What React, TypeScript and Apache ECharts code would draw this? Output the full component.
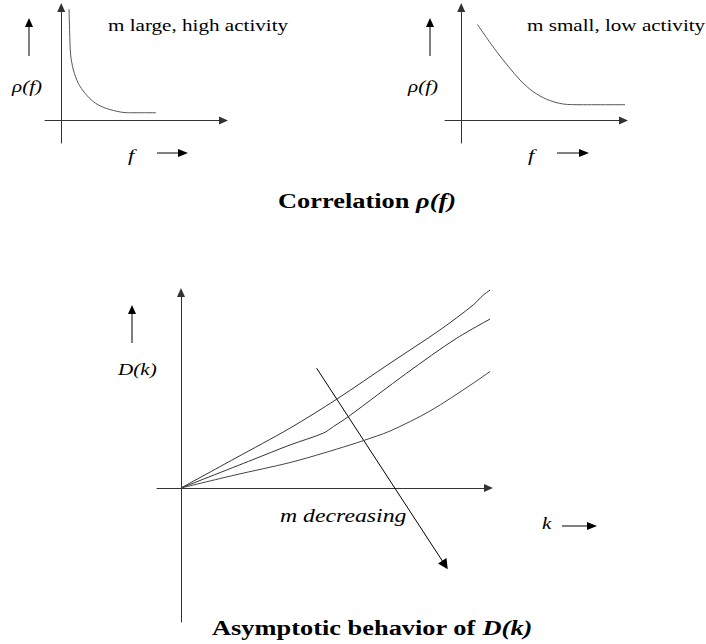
import React, { useEffect, useRef } from 'react';
import * as echarts from 'echarts';

// rho(f) for large m (high activity): f values and correlation values
const highActivityF = [0.048, 0.052, 0.058, 0.075, 0.105, 0.147, 0.198, 0.259, 0.342, 0.404, 0.584];
const highActivityRho = [0.984, 0.78, 0.58, 0.446, 0.329, 0.24, 0.166, 0.116, 0.081, 0.068, 0.068];

// rho(f) for small m (low activity)
const lowActivityF = [0.099, 0.219, 0.362, 0.444, 0.527, 0.629, 0.732, 1.081];
const lowActivityRho = [0.851, 0.608, 0.358, 0.254, 0.187, 0.145, 0.139, 0.139];

// D(k) curves, from largest m to smallest m
const curveAK = [0, 1.8, 3.63, 5.19, 6.97, 8.63, 9.74, 10.08, 10.47];
const curveAD = [0, 1.48, 2.99, 4.44, 6.24, 7.9, 9.15, 9.65, 10.07];
const curveBK = [0, 2.4, 3.63, 4.74, 5.08, 5.58, 7.52, 9.19, 10.66];
const curveBD = [0, 1.42, 2.15, 2.74, 3.07, 3.57, 5.74, 7.49, 8.74];
const curveCK = [0, 1.8, 3.63, 4.74, 5.63, 6.08, 6.97, 8.3, 9.74, 11.19];
const curveCD = [0, 0.65, 1.27, 1.74, 2.15, 2.37, 2.85, 3.85, 5.24, 6.77];

// "m decreasing" direction arrow, start and end in (k, D) units
const decreasingArrowK = [4.52, 8.8];
const decreasingArrowD = [5.99, -3.85];

const SERIF = '"Liberation Serif", "Times New Roman", serif';
const SX = 1.32;

const zip = (xs: number[], ys: number[]) => xs.map((x, i) => [x, ys[i]]);

const axisBase = {
  type: 'value' as const,
  axisTick: { show: false },
  axisLabel: { show: false },
  splitLine: { show: false },
  axisLine: {
    show: true,
    onZero: true,
    symbol: ['none', 'triangle'],
    symbolSize: [8, 9],
    lineStyle: { color: '#333', width: 1 },
  },
};

function upArrow(x: number, tipY: number, baseY: number) {
  return [
    {
      type: 'line',
      shape: { x1: x, y1: tipY + 8, x2: x, y2: baseY },
      style: { stroke: '#555', lineWidth: 1.5 },
    },
    {
      type: 'polygon',
      shape: { points: [[x, tipY], [x - 4, tipY + 9], [x + 4, tipY + 9]] },
      style: { fill: '#000' },
    },
  ];
}

function rightArrow(x1: number, tipX: number, y: number) {
  return [
    {
      type: 'line',
      shape: { x1, y1: y, x2: tipX - 8, y2: y },
      style: { stroke: '#000', lineWidth: 1 },
    },
    {
      type: 'polygon',
      shape: { points: [[tipX, y], [tipX - 10, y - 4], [tipX - 10, y + 4]] },
      style: { fill: '#000' },
    },
  ];
}

function label(
  text: string,
  x: number,
  y: number,
  fontSize: number,
  fontStyle = 'normal',
  fontWeight = 'normal'
) {
  return {
    type: 'text',
    x,
    y,
    scaleX: SX,
    style: {
      text,
      fontFamily: SERIF,
      fontSize,
      fontStyle,
      fontWeight,
      fill: '#000',
      align: 'left',
      verticalAlign: 'middle',
      textAlign: 'left',
      textVerticalAlign: 'middle',
    },
  };
}

function titleLabel(plain: string, italic: string, x: number, y: number) {
  return {
    type: 'text',
    x,
    y,
    scaleX: SX,
    style: {
      text: `{b|${plain}}{bi|${italic}}`,
      fontFamily: SERIF,
      fontSize: 20,
      fontWeight: 'bold',
      fill: '#000',
      align: 'left',
      verticalAlign: 'middle',
      textAlign: 'left',
      textVerticalAlign: 'middle',
      rich: {
        b: { fontFamily: SERIF, fontSize: 20, fontWeight: 'bold', fill: '#000' },
        bi: { fontFamily: SERIF, fontSize: 20, fontWeight: 'bold', fontStyle: 'italic', fill: '#000' },
      },
    },
  };
}

export default function App() {
  const ref = useRef<HTMLDivElement>(null);

  useEffect(() => {
    if (!ref.current) return;
    const chart = echarts.init(ref.current, undefined, { renderer: 'svg' });

    const curveLine = { color: '#555', width: 1 };

    chart.setOption({
      animation: false,
      backgroundColor: '#fff',
      grid: [
        { left: 45, top: 7.5, width: 178.5, height: 135.5 },
        { left: 445, top: 7.5, width: 178.5, height: 135.5 },
        { left: 157, top: 292.5, width: 331.5, height: 329.5 },
      ],
      xAxis: [
        { ...axisBase, gridIndex: 0, min: -0.1, max: 1.0 },
        { ...axisBase, gridIndex: 1, min: -0.1, max: 1.0 },
        { ...axisBase, gridIndex: 2, min: -0.8, max: 10.25 },
      ],
      yAxis: [
        { ...axisBase, gridIndex: 0, min: -0.2, max: 1.0 },
        { ...axisBase, gridIndex: 1, min: -0.2, max: 1.0 },
        { ...axisBase, gridIndex: 2, min: -6.7, max: 9.775 },
      ],
      series: [
        {
          type: 'line',
          xAxisIndex: 0,
          yAxisIndex: 0,
          data: zip(highActivityF, highActivityRho),
          symbol: 'none',
          smooth: 0.3,
          clip: false,
          lineStyle: curveLine,
        },
        {
          type: 'line',
          xAxisIndex: 1,
          yAxisIndex: 1,
          data: zip(lowActivityF, lowActivityRho),
          symbol: 'none',
          smooth: 0.3,
          clip: false,
          lineStyle: curveLine,
        },
        {
          type: 'line',
          xAxisIndex: 2,
          yAxisIndex: 2,
          data: zip(curveAK, curveAD),
          symbol: 'none',
          smooth: 0.3,
          clip: false,
          lineStyle: { color: '#333', width: 1 },
        },
        {
          type: 'line',
          xAxisIndex: 2,
          yAxisIndex: 2,
          data: zip(curveBK, curveBD),
          symbol: 'none',
          smooth: 0.3,
          clip: false,
          lineStyle: { color: '#333', width: 1 },
        },
        {
          type: 'line',
          xAxisIndex: 2,
          yAxisIndex: 2,
          data: zip(curveCK, curveCD),
          symbol: 'none',
          smooth: 0.3,
          clip: false,
          lineStyle: { color: '#444', width: 1 },
        },
        {
          type: 'lines',
          coordinateSystem: 'cartesian2d',
          xAxisIndex: 2,
          yAxisIndex: 2,
          symbol: ['none', 'triangle'],
          symbolSize: 10,
          lineStyle: { color: '#000', width: 1, opacity: 1, curveness: 0 },
          data: [{ coords: zip(decreasingArrowK, decreasingArrowD) }],
        },
      ],
      graphic: [
        ...upArrow(29, 18, 56),
        ...upArrow(430, 18, 56),
        ...upArrow(132, 305, 343),
        ...rightArrow(157, 188, 153),
        ...rightArrow(557, 589, 153),
        ...rightArrow(562, 597, 526),
        label('m large, high activity', 108, 25.3, 16),
        label('m small, low activity', 527, 25.3, 16),
        label('ρ(f)', 12, 86, 16, 'italic'),
        label('ρ(f)', 408, 86, 16, 'italic'),
        label('f', 128, 155, 17, 'italic'),
        label('f', 528, 155, 17, 'italic'),
        titleLabel('Correlation ', 'ρ(f)', 278, 201.5),
        label('D(k)', 118, 369.5, 16, 'italic'),
        label('m decreasing', 280, 516, 18, 'italic'),
        label('k', 542, 523, 16, 'italic'),
        titleLabel('Asymptotic behavior of ', 'D(k)', 212, 628),
      ],
    });

    return () => chart.dispose();
  }, []);

  return (
    <div
      ref={ref}
      style={{ position: 'fixed', left: 0, top: 0, width: 706, height: 644, background: '#fff' }}
    />
  );
}
